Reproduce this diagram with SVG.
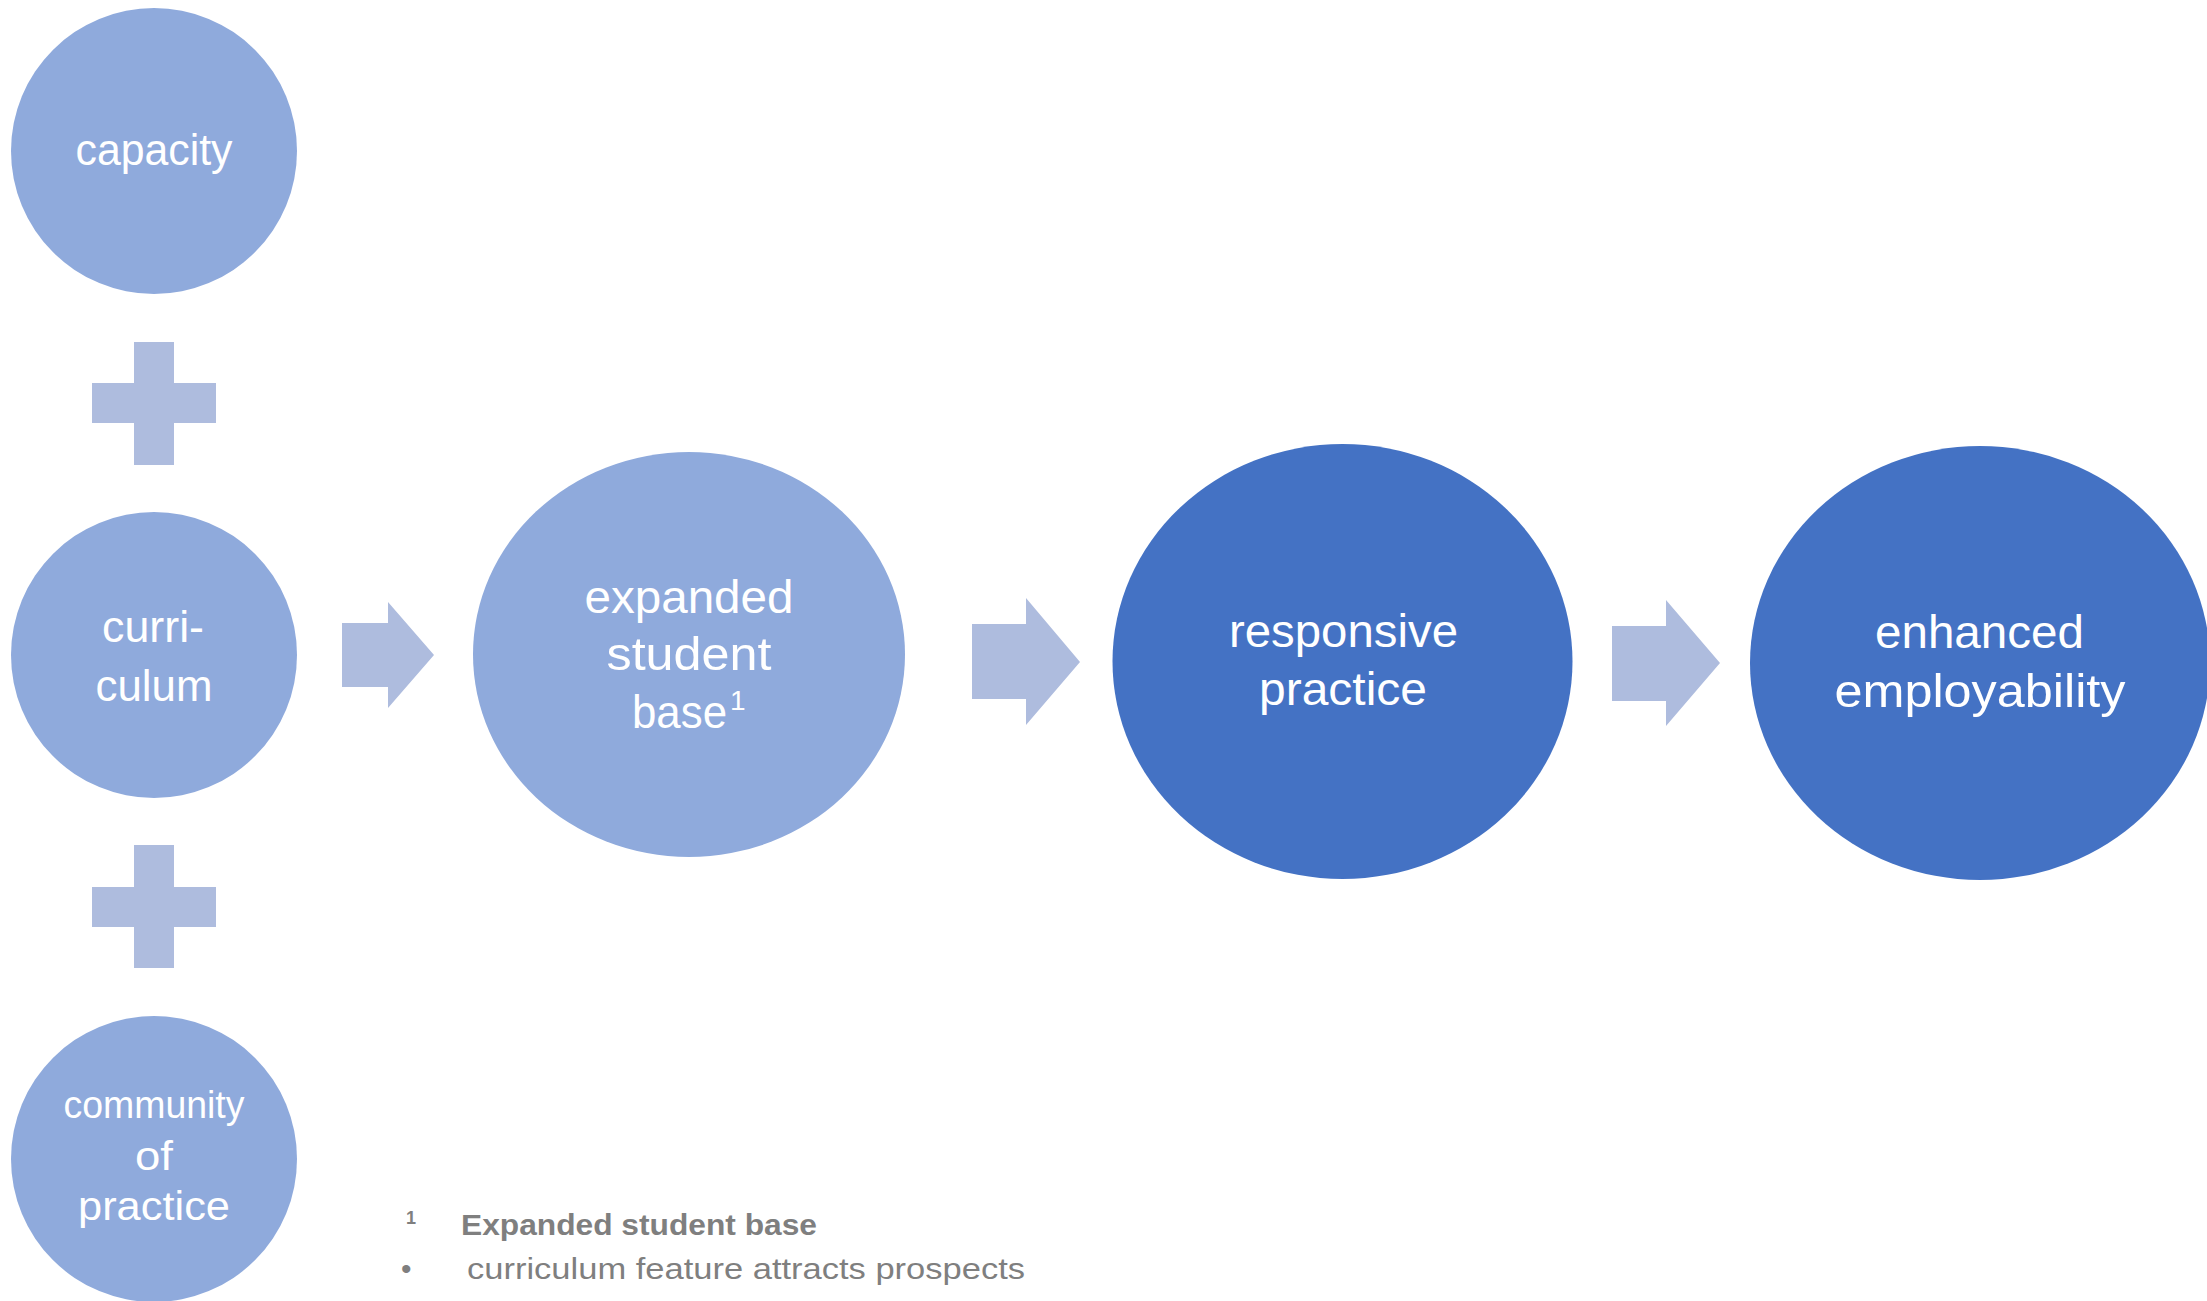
<svg xmlns="http://www.w3.org/2000/svg" width="2207" height="1301" viewBox="0 0 2207 1301">
<style>
.light{fill:#8FAADC}
.dark{fill:#4472C4}
.conn{fill:#AEBCDE}
.lbl{font-family:"Liberation Sans",Arial,sans-serif;fill:#FFFFFF;text-anchor:middle}
.note{font-family:"Liberation Sans",Arial,sans-serif;fill:#7F7F7F}
</style>
<rect width="2207" height="1301" fill="#FFFFFF"/>
<g id="connectors">
<path id="plus1" class="conn" d="M134 342H174V383H216V423H174V465H134V423H92V383H134Z"/>
<path id="plus2" class="conn" d="M134 845H174V887H216V927H174V968H134V927H92V887H134Z"/>
<path id="arrow1" class="conn" d="M342 623H388V602L434 655L388 708V687H342Z"/>
<path id="arrow2" class="conn" d="M972 624H1026V598L1080 662L1026 725V699H972Z"/>
<path id="arrow3" class="conn" d="M1612 626H1666V600L1720 663L1666 726V701H1612Z"/>
</g>
<g id="node-capacity">
<circle class="light" cx="154" cy="151" r="143"/>
<text class="lbl" x="154" y="165" font-size="44" textLength="157" lengthAdjust="spacingAndGlyphs">capacity</text>
</g>
<g id="node-curriculum">
<circle class="light" cx="154" cy="655" r="143"/>
<text class="lbl" x="153" y="642" font-size="44" textLength="102" lengthAdjust="spacingAndGlyphs">curri-</text>
<text class="lbl" x="154" y="701" font-size="44" textLength="117" lengthAdjust="spacingAndGlyphs">culum</text>
</g>
<g id="node-community">
<circle class="light" cx="154" cy="1159" r="143"/>
<text class="lbl" x="154" y="1118" font-size="38" textLength="181" lengthAdjust="spacingAndGlyphs">community</text>
<text class="lbl" x="154" y="1170" font-size="40" textLength="38" lengthAdjust="spacingAndGlyphs">of</text>
<text class="lbl" x="154" y="1220" font-size="40" textLength="152" lengthAdjust="spacingAndGlyphs">practice</text>
</g>
<g id="node-expanded">
<ellipse class="light" cx="689" cy="654.5" rx="216" ry="202.5"/>
<text class="lbl" x="689" y="613" font-size="46" textLength="209" lengthAdjust="spacingAndGlyphs">expanded</text>
<text class="lbl" x="689" y="670" font-size="46" textLength="165" lengthAdjust="spacingAndGlyphs">student</text>
<text class="lbl" x="632" y="728" font-size="46" style="text-anchor:start"><tspan textLength="95" lengthAdjust="spacingAndGlyphs">base</tspan><tspan dx="3" dy="-18" font-size="28">1</tspan></text>
</g>
<g id="node-responsive">
<ellipse class="dark" cx="1342.5" cy="661.5" rx="230" ry="217.5"/>
<text class="lbl" x="1343.5" y="647" font-size="46" textLength="229" lengthAdjust="spacingAndGlyphs">responsive</text>
<text class="lbl" x="1343" y="705" font-size="46" textLength="168" lengthAdjust="spacingAndGlyphs">practice</text>
</g>
<g id="node-enhanced">
<ellipse class="dark" cx="1980" cy="663" rx="230" ry="217"/>
<text class="lbl" x="1979.5" y="648" font-size="46" textLength="209" lengthAdjust="spacingAndGlyphs">enhanced</text>
<text class="lbl" x="1980" y="707" font-size="46" textLength="291" lengthAdjust="spacingAndGlyphs">employability</text>
</g>
<g id="footnote">
<text class="note" x="406" y="1224" font-size="18" font-weight="bold">1</text>
<text class="note" x="461" y="1235" font-size="30" font-weight="bold" textLength="356" lengthAdjust="spacingAndGlyphs">Expanded student base</text>
<text class="note" x="401" y="1279" font-size="30">•</text>
<text class="note" x="467" y="1279" font-size="30" textLength="558" lengthAdjust="spacingAndGlyphs">curriculum feature attracts prospects</text>
</g>
</svg>
